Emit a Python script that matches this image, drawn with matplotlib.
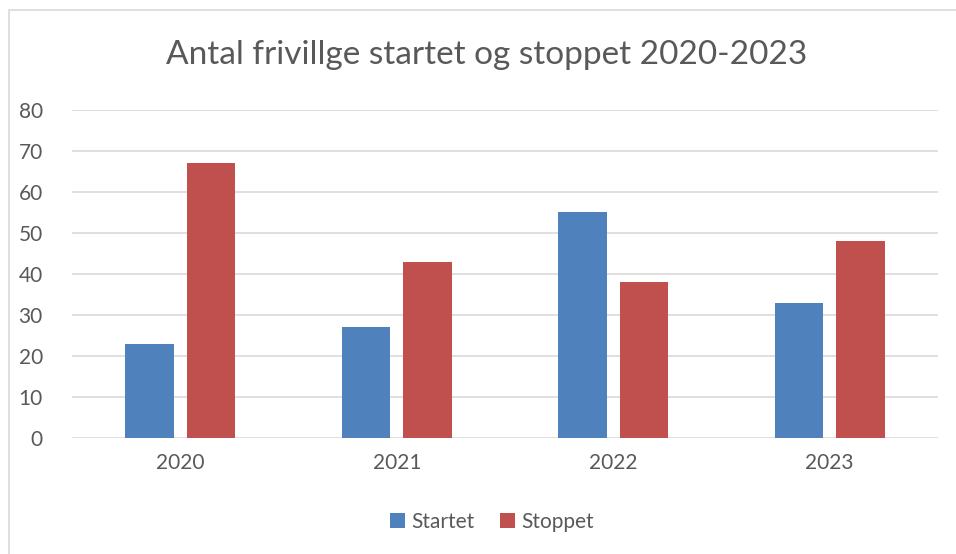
import numpy as np
import matplotlib.pyplot as plt
from matplotlib.patches import Rectangle

years = ["2020", "2021", "2022", "2023"]
startet = [23, 27, 55, 33]
stoppet = [67, 43, 38, 48]

plt.rcParams["font.family"] = ["Lato", "DejaVu Sans"]
text_col = "#595959"

fig = plt.figure(figsize=(9.56, 5.54), dpi=100)
ax = fig.add_axes((72 / 956, 1 - 438 / 554, 866 / 956, 328 / 554))

# chart border (runs off the right and bottom edges)
fig.patches.append(Rectangle((9 / 956, -0.1), 1.1, 1.1 - 10 / 554, transform=fig.transFigure,
                             fill=False, edgecolor="#d9d9d9", linewidth=1.2))

x = np.arange(len(years))
w = 0.226
ax.bar(x - 0.142, startet, w, color="#4f81bd", label="Startet", zorder=3)
ax.bar(x + 0.142, stoppet, w, color="#c0504d", label="Stoppet", zorder=3)

ax.set_xlim(-0.5, 3.5)
ax.set_ylim(0, 80)
ax.set_yticks(range(0, 81, 10))
ax.set_xticks(x)
ax.set_xticklabels(years)
ax.yaxis.grid(True, color="#d9d9d9", linewidth=1.2, zorder=0)
for s in ax.spines.values():
    s.set_visible(False)
ax.tick_params(length=0, labelsize=15, colors=text_col)
ax.tick_params(axis="y", pad=21)
ax.tick_params(axis="x", pad=11)

fig.text(487 / 956, 1 - 55 / 554, "Antal frivillge startet og stoppet 2020-2023",
         ha="center", va="center", fontsize=24, color=text_col)

fig.legend(loc="center", bbox_to_anchor=(492 / 956, 1 - 522 / 554), ncol=2,
           frameon=False, fontsize=15, labelcolor=text_col, handlelength=0.75,
           handleheight=0.75, columnspacing=1.2, handletextpad=0.3)

fig.savefig("out.png", dpi=100)
